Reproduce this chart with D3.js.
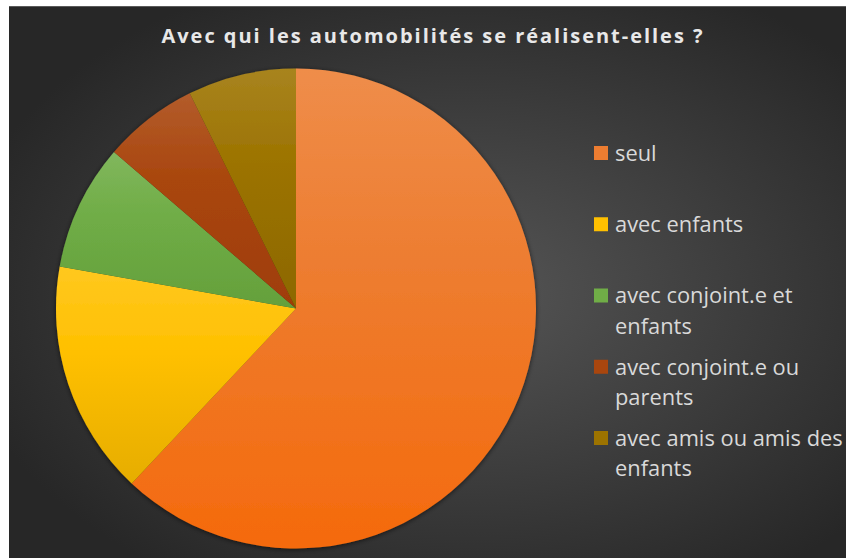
<!DOCTYPE html>
<html>
<head>
<meta charset="utf-8">
<title>Avec qui les automobilités se réalisent-elles ?</title>
<style>
  html, body { margin: 0; padding: 0; background: #ffffff; }
  svg { display: block; }
</style>
</head>
<body>
<script src="https://cdn.jsdelivr.net/npm/d3@7"></script>
<script>
// data (percent)
var categories = ['seul', 'avec enfants', 'avec conjoint.e et enfants', 'avec conjoint.e ou parents', 'avec amis ou amis des enfants'];
var values = [62, 15.8, 8.5, 6.4, 7.3];
var legendLines = [['seul'], ['avec enfants'], ['avec conjoint.e et', 'enfants'], ['avec conjoint.e ou', 'parents'], ['avec amis ou amis des', 'enfants']];
var colors = ['#ED7D31', '#FFC000', '#70AD47', '#A9460E', '#9C7300'];
var title = 'Avec qui les automobilités se réalisent-elles ?';

var width = 846, height = 558;
var cx = 296, cy = 308.5, radius = 240;
var font = '"Open Sans", Lato, sans-serif';

var svg = d3.select('body').append('svg')
    .attr('width', width)
    .attr('height', height);

var defs = svg.append('defs');

var bg = defs.append('radialGradient')
    .attr('id', 'bg')
    .attr('cx', '55%').attr('cy', '52%').attr('r', '62%');
bg.append('stop').attr('offset', '0%').attr('stop-color', '#555555');
bg.append('stop').attr('offset', '100%').attr('stop-color', '#272727');

var shadow = defs.append('filter').attr('id', 'shadow')
    .attr('x', '-10%').attr('y', '-10%').attr('width', '120%').attr('height', '120%');
shadow.append('feDropShadow')
    .attr('dx', 0).attr('dy', 1).attr('stdDeviation', 2.5)
    .attr('flood-color', '#000').attr('flood-opacity', 0.6);

colors.forEach(function(c, i) {
    var g = defs.append('linearGradient')
        .attr('id', 'slice' + i)
        .attr('x1', 0).attr('y1', 0).attr('x2', 0).attr('y2', 1);
    var low = d3.hsl(c);
    low.l *= 0.9;
    low.s = Math.min(1, low.s * 1.1);
    g.append('stop').attr('offset', '0%').attr('stop-color', d3.interpolateRgb(c, '#ffffff')(0.12));
    g.append('stop').attr('offset', '40%').attr('stop-color', c);
    g.append('stop').attr('offset', '100%').attr('stop-color', low);
});

svg.append('rect')
    .attr('x', 9).attr('y', 6)
    .attr('width', width - 9).attr('height', height - 6)
    .attr('fill', 'url(#bg)');

svg.append('line')
    .attr('x1', 9).attr('x2', width).attr('y1', 6.5).attr('y2', 6.5)
    .attr('stroke', '#5a5a5a').attr('stroke-width', 1);

var titleText = svg.append('text')
    .attr('x', 433)
    .attr('y', 43)
    .attr('text-anchor', 'middle')
    .style('font-family', font)
    .style('font-weight', 'bold')
    .style('font-size', '20px')
    .style('fill', '#e8e8e8')
    .text(title);
// spread the title to the width seen in the chart
var tw = titleText.node().getComputedTextLength();
titleText.style('letter-spacing', Math.max(0, (543 - tw) / title.length) + 'px');

var pie = d3.pie().sort(null).value(function(d) { return d; });
var arc = d3.arc().innerRadius(0).outerRadius(radius);

var pieG = svg.append('g')
    .attr('transform', 'translate(' + cx + ',' + cy + ')')
    .attr('filter', 'url(#shadow)');

pieG.selectAll('path')
    .data(pie(values))
    .enter()
    .append('path')
    .attr('d', arc)
    .attr('fill', function(d, i) { return 'url(#slice' + i + ')'; });

var legendY = d3.scalePoint()
    .domain(categories)
    .range([153, 438]);

var legend = svg.selectAll('g.legend')
    .data(categories)
    .enter()
    .append('g')
    .attr('class', 'legend')
    .attr('transform', function(d) { return 'translate(594,' + legendY(d) + ')'; });

legend.append('rect')
    .attr('x', 0).attr('y', -7)
    .attr('width', 14).attr('height', 14)
    .attr('fill', function(d, i) { return colors[i]; });

var legendText = legend.selectAll('text')
    .data(function(d, i) { return legendLines[i]; })
    .enter()
    .append('text')
    .attr('x', 21)
    .attr('y', function(d, j) { return j * 30.5; })
    .attr('dy', '0.36em')
    .style('font-family', font)
    .style('font-size', '20px')
    .style('fill', '#d9d9d9')
    .text(function(d) { return d; });

// size the legend font so the longest line is as wide as in the chart
var longest = d3.max(legendText.nodes(), function(n) { return n.getComputedTextLength(); });
legendText.style('font-size', (20 * 228 / longest) + 'px');
</script>
</body>
</html>
